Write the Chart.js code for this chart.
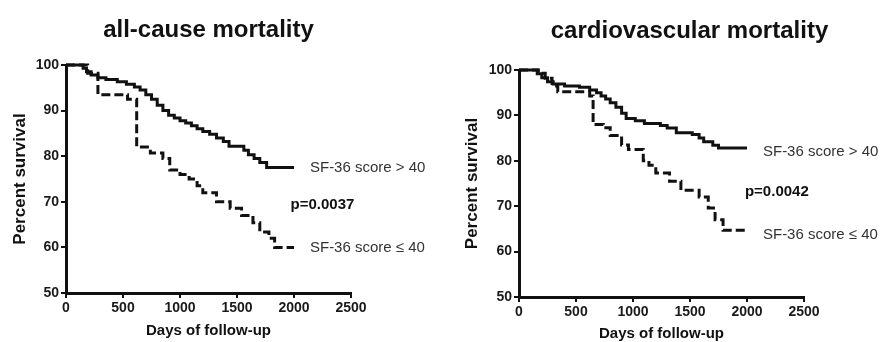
<!DOCTYPE html>
<html>
<head>
<meta charset="utf-8">
<script src="https://cdn.jsdelivr.net/npm/chart.js@4.4.1/dist/chart.umd.min.js"></script>
<style>
  html, body { margin: 0; padding: 0; background: #fff; }
  #wrap { position: relative; width: 880px; height: 342px; overflow: hidden; }
  canvas { position: absolute; top: 0; }
</style>
</head>
<body>
<div id="wrap">
  <canvas id="allCause" width="440" height="342" style="left:0"></canvas>
  <canvas id="cardio" width="440" height="342" style="left:440px"></canvas>
</div>
<script>
// axis ticks
const xTicks = [0, 500, 1000, 1500, 2000, 2500];
const yTicks = [50, 60, 70, 80, 90, 100];

// all-cause mortality, SF-36 score > 40
const allHighDays = [0, 150, 180, 220, 280, 350, 450, 530, 600, 650, 700, 750, 800, 850, 900, 950, 1000, 1050, 1100, 1150, 1200, 1260, 1320, 1380, 1430, 1560, 1600, 1650, 1700, 1760, 2000];
const allHighSurv = [100, 99.3, 98.5, 97.8, 97.2, 96.8, 96.3, 95.8, 95.2, 94.5, 93.5, 92.5, 91.2, 90.0, 89.0, 88.4, 87.8, 87.3, 86.7, 86.0, 85.4, 84.8, 84.0, 83.2, 82.2, 81.3, 80.3, 79.5, 78.6, 77.5, 77.5];

// all-cause mortality, SF-36 score <= 40
const allLowDays = [0, 190, 280, 540, 620, 740, 850, 910, 1000, 1080, 1150, 1200, 1320, 1440, 1540, 1640, 1700, 1780, 1830, 2000];
const allLowSurv = [100, 98.2, 93.5, 92.5, 82, 80.7, 79.5, 77, 76, 75, 73.5, 72, 70, 68.6, 67, 65.4, 63.4, 62, 60, 60];

// cardiovascular mortality, SF-36 score > 40
const cvHighDays = [0, 160, 200, 250, 300, 400, 530, 620, 680, 720, 760, 800, 850, 900, 940, 1020, 1100, 1240, 1300, 1380, 1520, 1580, 1620, 1700, 1750, 2000];
const cvHighSurv = [100, 99.2, 98.3, 97.4, 96.9, 96.5, 96.2, 95.6, 95, 94.3, 93.6, 92.8, 91.8, 90.5, 89.3, 88.8, 88.2, 87.8, 87.2, 86.2, 85.8, 85.0, 84.2, 83.4, 82.8, 82.8];

// cardiovascular mortality, SF-36 score <= 40
const cvLowDays = [0, 170, 230, 290, 340, 620, 650, 740, 800, 900, 960, 1090, 1140, 1200, 1320, 1420, 1580, 1660, 1720, 1790, 2000];
const cvLowSurv = [100, 99.3, 98.2, 96.5, 95.2, 94.3, 88, 87.3, 85.6, 83.5, 82.5, 80, 79, 77.3, 75.5, 73.5, 72, 69.6, 67, 64.7, 64.7];

// labels next to the curves
const allNoteText = ['SF-36 score > 40', 'p=0.0037', 'SF-36 score \u2264 40'];
const allNoteDays = [2140, 1970, 2140];
const allNoteSurv = [77.5, 69.3, 59.8];
const cvNoteText = ['SF-36 score > 40', 'p=0.0042', 'SF-36 score \u2264 40'];
const cvNoteDays = [2140, 1982, 2140];
const cvNoteSurv = [81.9, 73.1, 63.7];

const FONT = '"Liberation Sans", Arial, Helvetica, sans-serif';
Chart.defaults.font.family = FONT;

const toPoints = (days, surv) => days.map((d, i) => ({ x: d, y: surv[i] }));

// titles, axis titles and curve labels
const chartText = {
    id: 'chartText',
    afterDraw(chart, args, opts) {
        const ctx = chart.ctx;
        const { left, right, top, bottom } = chart.chartArea;
        const xs = chart.scales.x;
        const ys = chart.scales.y;
        ctx.save();
        ctx.fillStyle = '#111';

        ctx.font = 'bold 24px ' + FONT;
        ctx.textAlign = 'center';
        ctx.textBaseline = 'alphabetic';
        ctx.fillText(opts.title, (left + right) / 2 + opts.titleShift, opts.titleY);

        ctx.font = 'bold 15px ' + FONT;
        ctx.textBaseline = 'middle';
        ctx.fillText('Days of follow-up', (left + right) / 2, opts.xTitleY);

        ctx.save();
        ctx.font = 'bold 17px ' + FONT;
        ctx.translate(opts.yTitleX, (top + bottom) / 2);
        ctx.rotate(-Math.PI / 2);
        ctx.fillText('Percent survival', 0, 0);
        ctx.restore();

        ctx.textAlign = 'left';
        opts.texts.forEach((t, i) => {
            const bold = t.startsWith('p=');
            ctx.font = (bold ? 'bold 15px ' : '15px ') + FONT;
            ctx.fillStyle = bold ? '#111' : '#333';
            ctx.fillText(t, xs.getPixelForValue(opts.days[i]), ys.getPixelForValue(opts.surv[i]));
        });
        ctx.restore();
    }
};

function buildChart(id, high, low, cfg) {
    const canvas = document.getElementById(id);
    return new Chart(canvas, {
        type: 'line',
        data: {
            datasets: [{
                data: high,
                stepped: true,
                borderColor: '#111',
                borderWidth: 3,
                pointRadius: 0,
                fill: false,
                clip: false
            }, {
                data: low,
                stepped: true,
                borderColor: '#111',
                borderWidth: 3,
                borderDash: [9, 4],
                pointRadius: 0,
                fill: false,
                clip: false
            }]
        },
        options: {
            responsive: false,
            devicePixelRatio: 1,
            animation: false,
            layout: {
                padding: { top: cfg.top, right: cfg.right, left: 0, bottom: 0 }
            },
            plugins: {
                legend: { display: false },
                tooltip: { enabled: false },
                chartText: cfg.text
            },
            scales: {
                x: {
                    type: 'linear',
                    min: 0,
                    max: 2500,
                    afterBuildTicks: s => { s.ticks = xTicks.map(v => ({ value: v })); },
                    afterFit: s => { s.height = cfg.xHeight; },
                    grid: { drawOnChartArea: false, drawTicks: true, tickLength: 5, lineWidth: 2, color: '#111' },
                    border: { display: true, width: 3, color: '#111' },
                    ticks: {
                        color: '#1a1a1a',
                        padding: 2,
                        maxRotation: 0,
                        autoSkip: false,
                        callback: v => String(v),
                        font: { size: 14, weight: 'bold' }
                    }
                },
                y: {
                    type: 'linear',
                    min: 50,
                    max: 100,
                    afterBuildTicks: s => { s.ticks = yTicks.map(v => ({ value: v })); },
                    afterFit: s => { s.width = cfg.yWidth; },
                    grid: { drawOnChartArea: false, drawTicks: true, tickLength: 5, lineWidth: 2, color: '#111' },
                    border: { display: true, width: 3, color: '#111' },
                    ticks: {
                        color: '#1a1a1a',
                        padding: 2,
                        autoSkip: false,
                        callback: v => String(v),
                        font: { size: 14, weight: 'bold' }
                    }
                }
            }
        },
        plugins: [chartText]
    });
}

buildChart('allCause', toPoints(allHighDays, allHighSurv), toPoints(allLowDays, allLowSurv), {
    top: 65, right: 89, xHeight: 49, yWidth: 66,
    text: {
        title: 'all-cause mortality', titleShift: 0, titleY: 37,
        xTitleY: 331, yTitleX: 20,
        texts: allNoteText, days: allNoteDays, surv: allNoteSurv
    }
});

buildChart('cardio', toPoints(cvHighDays, cvHighSurv), toPoints(cvLowDays, cvLowSurv), {
    top: 70, right: 76, xHeight: 45, yWidth: 79,
    text: {
        title: 'cardiovascular mortality', titleShift: 28, titleY: 38,
        xTitleY: 334, yTitleX: 32,
        texts: cvNoteText, days: cvNoteDays, surv: cvNoteSurv
    }
});
</script>
</body>
</html>
